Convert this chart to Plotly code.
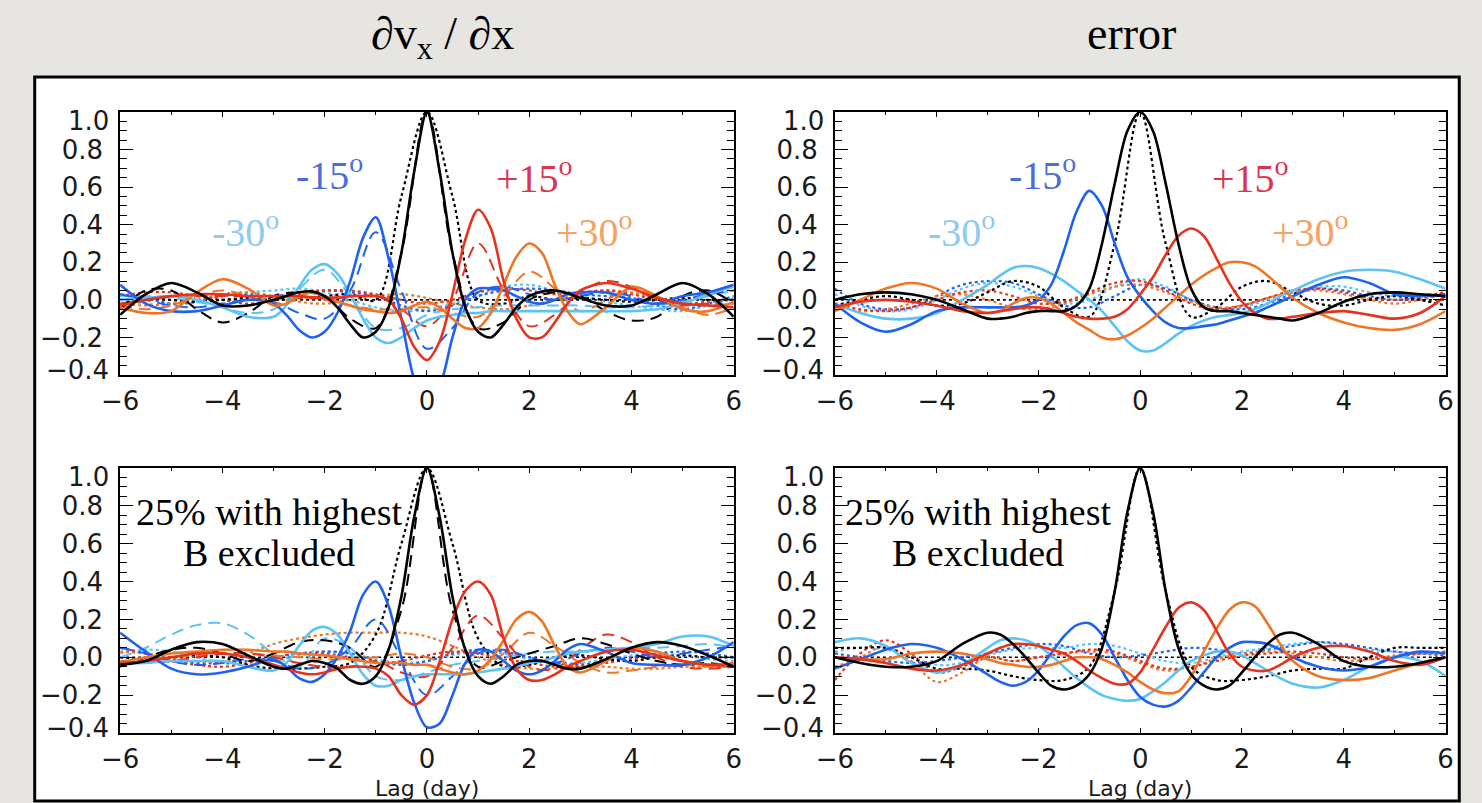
import plotly.graph_objects as go

W, H = 1482, 803

# ---------------- data ----------------
# fine grid for solid curves
lag_fine = [-6, -5.5, -5, -4.5, -4, -3.5,
            -3, -2.75, -2.5, -2.25, -2, -1.75, -1.5, -1.25, -1, -0.75, -0.5, -0.25,
            0, 0.25, 0.5, 0.75, 1, 1.25, 1.5, 1.75, 2, 2.25, 2.5, 2.75, 3,
            3.5, 4, 4.5, 5, 5.5, 6]
# coarse grid for dashed / dotted curves
lag_coarse = [-6, -5.5, -5, -4.5, -4, -3.5, -3, -2.5, -2, -1.5, -1, -0.5, 0,
              0.5, 1, 1.5, 2, 2.5, 3, 3.5, 4, 4.5, 5, 5.5, 6]

series_names = ["lat 0", "-15o", "-30o", "+15o", "+30o"]

# ---- top-left: dvx/dx ----
tl_solid_black = [-0.08, 0.03, 0.09, 0.04, -0.03, -0.03,
                  0.0, 0.02, 0.04, 0.045, 0.02, -0.04, -0.13, -0.2, -0.17, -0.04, 0.25, 0.68,
                  1.0, 0.68, 0.25, -0.04, -0.17, -0.2, -0.13, -0.04, 0.02, 0.045, 0.05, 0.035, 0.01,
                  -0.03, -0.03, 0.03, 0.09, 0.03, -0.09]
tl_solid_m15 = [0.08, -0.02, -0.06, -0.06, -0.03, 0.0,
                -0.02, -0.08, -0.16, -0.2, -0.17, -0.07, 0.1, 0.33, 0.44, 0.22, -0.1, -0.42,
                -0.55, -0.46, -0.2, 0.0, 0.06, 0.06, 0.05, 0.02, -0.01, -0.02, 0.0, 0.03, 0.04,
                0.04, 0.0, -0.02, 0.02, 0.04, 0.08]
tl_solid_m30 = [0.0, 0.01, 0.02, 0.0, -0.04, -0.09,
                -0.09, -0.03, 0.07, 0.16, 0.19, 0.14, 0.03, -0.1, -0.2, -0.23, -0.2, -0.15,
                -0.11, -0.09, -0.08, -0.07, -0.07, -0.06, -0.06, -0.06, -0.06, -0.06, -0.06, -0.06, -0.06,
                -0.06, -0.06, -0.05, -0.02, 0.03, 0.07]
tl_solid_p15 = [-0.03, 0.0, 0.02, 0.03, 0.03, 0.02,
                0.02, 0.02, 0.02, 0.015, 0.01, 0.01, 0.02, 0.02, 0.02, 0.0, -0.1, -0.25,
                -0.32, -0.22, 0.03, 0.32, 0.48, 0.38, 0.1, -0.1, -0.2, -0.2, -0.12, -0.02, 0.05,
                0.09, 0.06, 0.01, -0.02, -0.03, -0.04]
tl_solid_p30 = [-0.04, -0.07, -0.06, 0.04, 0.11, 0.06,
                -0.03, -0.02, 0.02, 0.04, 0.02, -0.01, -0.03, -0.05, -0.06, -0.07, -0.06, -0.03,
                -0.01, -0.04, -0.1, -0.15, -0.15, -0.07, 0.08, 0.23, 0.3, 0.25, 0.08, -0.06, -0.13,
                -0.04, 0.07, 0.02, -0.05, -0.06, -0.01]

tl_dash_black = [-0.05, 0.05, 0.05, -0.05, -0.12, -0.07, 0.02, 0.04, 0.02, -0.1, -0.15, 0.25, 1.0,
                 0.25, -0.15, -0.12, 0.0, 0.04, 0.02, -0.06, -0.11, -0.09, 0.02, 0.05, -0.02]
tl_dash_m15 = [0.03, 0.0, -0.03, -0.04, -0.02, 0.0, -0.01, -0.07, -0.1, 0.05, 0.36, 0.05, -0.26,
               -0.15, 0.04, 0.07, 0.03, 0.0, 0.02, 0.04, 0.02, -0.02, 0.0, 0.03, 0.05]
tl_dash_m30 = [0.02, 0.02, 0.01, -0.01, -0.04, -0.07, -0.05, 0.06, 0.16, 0.02, -0.15, -0.15, -0.08,
               -0.05, -0.04, -0.03, -0.03, -0.03, -0.03, -0.04, -0.04, -0.03, -0.01, 0.02, 0.05]
tl_dash_p15 = [-0.02, 0.0, 0.02, 0.02, 0.02, 0.02, 0.02, 0.01, 0.01, 0.02, 0.02, -0.05, -0.14,
               0.0, 0.3, 0.05, -0.14, -0.08, 0.04, 0.1, 0.07, 0.0, -0.03, -0.02, -0.03]
tl_dash_p30 = [-0.03, -0.05, -0.03, 0.02, 0.05, 0.02, -0.02, 0.01, 0.0, -0.03, -0.05, -0.05, -0.04,
               -0.07, -0.09, 0.02, 0.15, 0.06, -0.06, 0.0, 0.06, 0.02, -0.04, -0.08, -0.04]

tl_dot_black = [0.0, 0.01, 0.0, -0.01, 0.0, 0.01, 0.0, 0.01, 0.02, 0.03, 0.0, 0.55, 1.0,
                0.55, 0.0, -0.02, 0.02, 0.0, 0.01, 0.0, -0.01, 0.0, 0.01, 0.0, 0.0]
tl_dot_m15 = [0.03, 0.01, -0.02, -0.01, 0.02, 0.03, 0.02, 0.04, 0.05, 0.04, 0.02, -0.03, -0.06,
              -0.03, 0.02, 0.05, 0.06, 0.05, 0.03, 0.02, 0.01, -0.03, -0.05, -0.02, 0.02]
tl_dot_m30 = [0.0, -0.02, -0.03, -0.01, 0.02, 0.04, 0.05, 0.06, 0.04, 0.0, -0.04, -0.06, -0.05,
              -0.02, 0.02, 0.07, 0.08, 0.05, 0.02, -0.01, -0.03, -0.05, -0.06, -0.03, 0.01]
tl_dot_p15 = [0.02, 0.04, 0.04, 0.02, 0.0, -0.02, 0.0, 0.03, 0.05, 0.05, 0.03, 0.0, -0.02,
              0.0, 0.04, 0.06, 0.05, 0.03, 0.04, 0.05, 0.03, 0.0, -0.02, -0.01, 0.0]
tl_dot_p30 = [-0.02, -0.03, -0.02, 0.0, 0.03, 0.04, 0.02, -0.01, -0.02, 0.0, 0.02, 0.03, 0.01,
              -0.02, -0.04, -0.05, -0.03, 0.0, 0.03, 0.05, 0.04, 0.01, -0.02, -0.03, -0.02]

# ---- top-right: error ----
tr_solid_black = [0.0, 0.03, 0.04, 0.03, 0.0, -0.05,
                  -0.1, -0.1, -0.09, -0.07, -0.06, -0.06, -0.06, -0.03, 0.06, 0.3, 0.62, 0.9,
                  1.0, 0.9, 0.62, 0.3, 0.06, -0.04, -0.06, -0.06, -0.07, -0.08, -0.09, -0.1, -0.11,
                  -0.07, -0.01, 0.03, 0.04, 0.03, 0.02]
tr_solid_m15 = [-0.02, -0.12, -0.17, -0.13, -0.06, -0.04,
                -0.04, -0.04, -0.04, -0.03, 0.0, 0.08, 0.26, 0.47, 0.58, 0.5, 0.3, 0.12,
                0.02, -0.06, -0.12, -0.15, -0.15, -0.14, -0.13, -0.11, -0.09, -0.07, -0.04, -0.01, 0.02,
                0.08, 0.12, 0.09, 0.03, 0.02, 0.03]
tr_solid_m30 = [-0.02, -0.07, -0.1, -0.1, -0.07, 0.0,
                0.08, 0.13, 0.17, 0.18, 0.17, 0.14, 0.1, 0.05, 0.0, -0.06, -0.14, -0.22,
                -0.27, -0.27, -0.23, -0.18, -0.14, -0.11, -0.09, -0.08, -0.07, -0.05, -0.02, 0.02, 0.05,
                0.11, 0.15, 0.16, 0.15, 0.11, 0.06]
tr_solid_p15 = [-0.04, -0.01, 0.0, -0.01, -0.03, -0.06,
                -0.07, -0.06, -0.05, -0.04, -0.04, -0.05, -0.07, -0.09, -0.1, -0.1, -0.09, -0.05,
                0.03, 0.12, 0.24, 0.34, 0.38, 0.34, 0.22, 0.09, -0.01, -0.07, -0.1, -0.1, -0.09,
                -0.07, -0.06, -0.08, -0.1, -0.07, 0.02]
tr_solid_p30 = [-0.06, 0.0, 0.06, 0.09, 0.06, -0.02,
                -0.07, -0.06, -0.02, 0.01, 0.01, -0.02, -0.07, -0.12, -0.16, -0.2, -0.21, -0.19,
                -0.15, -0.1, -0.04, 0.02, 0.08, 0.13, 0.17, 0.2, 0.2, 0.18, 0.13, 0.07, 0.01,
                -0.07, -0.12, -0.15, -0.16, -0.13, -0.06]

tr_dot_black = [-0.03, 0.0, 0.02, 0.0, -0.03, -0.02, 0.04, 0.1, 0.07, -0.04, -0.09, 0.3, 1.0,
                0.3, -0.09, -0.04, 0.07, 0.1, 0.04, -0.02, -0.03, 0.0, 0.02, 0.0, -0.03]
tr_dot_m15 = [0.06, -0.02, -0.05, -0.04, 0.02, 0.08, 0.1, 0.09, 0.03, -0.03, -0.04, 0.02, 0.08,
              0.06, 0.0, -0.04, -0.05, -0.02, 0.03, 0.06, 0.05, 0.02, 0.0, 0.01, 0.03]
tr_dot_m30 = [0.03, -0.03, -0.06, -0.05, 0.0, 0.06, 0.09, 0.07, 0.02, -0.02, 0.0, 0.07, 0.11,
              0.07, 0.0, -0.05, -0.04, 0.0, 0.04, 0.07, 0.07, 0.04, 0.02, 0.03, 0.02]
tr_dot_p15 = [-0.02, -0.05, -0.06, -0.04, 0.0, 0.04, 0.05, 0.02, -0.02, -0.01, 0.04, 0.09, 0.1,
              0.05, -0.02, -0.05, -0.03, 0.01, 0.05, 0.06, 0.04, 0.01, 0.0, 0.02, 0.04]
tr_dot_p30 = [-0.03, -0.06, -0.05, -0.02, 0.02, 0.03, 0.0, -0.04, -0.05, -0.02, 0.03, 0.07, 0.08,
              0.04, -0.01, -0.04, -0.03, 0.01, 0.04, 0.05, 0.03, 0.0, -0.02, 0.0, 0.03]

# ---- bottom-left: dvx/dx, 25% highest B excluded ----
bl_solid_black = [-0.04, -0.02, 0.04, 0.08, 0.07, 0.01,
                  -0.05, -0.06, -0.04, -0.02, -0.03, -0.06, -0.12, -0.14, -0.1, 0.04, 0.32, 0.74,
                  1.0, 0.74, 0.32, 0.04, -0.1, -0.14, -0.1, -0.04, -0.02, -0.02, -0.04, -0.06, -0.06,
                  -0.01, 0.05, 0.08, 0.06, 0.01, -0.05]
bl_solid_m15 = [0.13, 0.03, -0.06, -0.09, -0.08, -0.05,
                -0.01, -0.05, -0.11, -0.13, -0.09, 0.0, 0.14, 0.33, 0.4, 0.27, 0.0, -0.24,
                -0.37, -0.35, -0.2, -0.03, 0.04, 0.03, -0.02, -0.07, -0.09, -0.07, -0.02, 0.04, 0.07,
                0.03, -0.03, -0.04, -0.04, 0.0, 0.08]
bl_solid_m30 = [-0.03, -0.03, -0.02, -0.02, -0.02, -0.05,
                -0.07, -0.03, 0.06, 0.14, 0.16, 0.12, 0.02, -0.09, -0.15, -0.15, -0.12, -0.1,
                -0.09, -0.09, -0.09, -0.09, -0.08, -0.07, -0.06, -0.05, -0.03, -0.02, 0.0, 0.02, 0.03,
                0.04, 0.05, 0.07, 0.11, 0.11, 0.06]
bl_solid_p15 = [-0.03, -0.02, 0.0, 0.02, 0.02, 0.0,
                -0.04, -0.06, -0.08, -0.09, -0.08, -0.06, -0.05, -0.05, -0.06, -0.1, -0.2, -0.25,
                -0.2, -0.02, 0.2, 0.35, 0.4, 0.33, 0.1, -0.06, -0.12, -0.12, -0.09, -0.05, -0.02,
                0.03, 0.04, 0.01, -0.02, -0.04, -0.04]
bl_solid_p30 = [-0.03, 0.0, 0.02, 0.03, 0.04, 0.04,
                0.03, 0.03, 0.02, 0.015, 0.01, 0.0, -0.01, -0.02, -0.03, -0.03, -0.03, -0.04,
                -0.04, -0.06, -0.08, -0.09, -0.07, -0.01, 0.09, 0.2, 0.24, 0.19, 0.06, -0.05, -0.08,
                -0.02, 0.05, 0.03, -0.02, -0.04, -0.03]

bl_dash_black = [-0.05, 0.0, 0.04, 0.05, 0.02, -0.02, 0.02, 0.08, 0.09, 0.05, -0.05, 0.25, 1.0,
                 0.25, -0.05, -0.02, 0.02, 0.06, 0.1, 0.07, 0.02, -0.02, -0.04, -0.03, -0.05]
bl_dash_m15 = [0.05, 0.02, -0.02, -0.04, -0.03, -0.01, -0.02, -0.06, -0.04, 0.05, 0.2, 0.0, -0.2,
               -0.1, 0.02, 0.04, 0.0, -0.03, 0.02, 0.05, 0.03, 0.0, 0.02, 0.04, 0.06]
bl_dash_m30 = [0.0, 0.05, 0.12, 0.17, 0.18, 0.12, 0.02, -0.05, 0.1, 0.05, -0.1, -0.12, -0.08,
               -0.04, -0.02, 0.0, 0.02, 0.03, 0.03, 0.04, 0.05, 0.05, 0.06, 0.07, 0.05]
bl_dash_p15 = [-0.03, -0.03, -0.02, 0.0, 0.02, 0.02, 0.0, -0.03, -0.05, -0.05, -0.02, -0.08, -0.1,
               0.05, 0.22, 0.1, -0.05, -0.06, 0.04, 0.12, 0.08, 0.0, -0.05, -0.06, -0.05]
bl_dash_p30 = [-0.02, -0.01, 0.0, 0.01, 0.02, 0.02, 0.01, 0.0, -0.01, -0.01, 0.0, 0.02, 0.0,
               -0.05, -0.06, 0.02, 0.13, 0.06, -0.03, -0.08, -0.07, -0.05, -0.04, -0.05, -0.05]

bl_dot_black = [0.0, -0.01, 0.0, 0.01, 0.0, -0.04, -0.06, -0.06, -0.05, -0.03, 0.12, 0.6, 1.0,
                0.6, 0.1, -0.05, -0.04, 0.0, 0.01, -0.01, -0.02, 0.0, 0.01, 0.0, 0.0]
bl_dot_m15 = [0.05, 0.02, -0.01, -0.03, -0.03, -0.02, 0.0, 0.02, 0.03, 0.02, -0.02, -0.04, -0.02,
              0.02, 0.04, 0.03, 0.0, -0.03, -0.04, -0.02, 0.0, 0.02, 0.03, 0.02, 0.0]
bl_dot_m30 = [0.02, 0.04, 0.03, 0.0, -0.03, -0.04, -0.02, 0.01, 0.03, 0.02, -0.01, -0.03, -0.02,
              0.01, 0.03, 0.02, -0.01, -0.03, -0.03, -0.01, 0.01, 0.02, 0.01, -0.01, -0.02]
bl_dot_p15 = [0.05, 0.02, -0.02, -0.04, -0.05, -0.03, 0.0, 0.02, 0.02, 0.0, -0.03, -0.02, 0.01,
              0.03, 0.02, -0.01, -0.03, -0.05, -0.05, -0.03, -0.01, 0.0, -0.02, -0.04, -0.05]
bl_dot_p30 = [0.03, 0.02, 0.0, -0.02, -0.02, 0.02, 0.07, 0.1, 0.12, 0.13, 0.13, 0.13, 0.11,
              0.06, 0.0, -0.04, -0.06, -0.06, -0.05, -0.05, -0.06, -0.06, -0.05, -0.05, -0.05]

# ---- bottom-right: error, 25% highest B excluded ----
br_solid_black = [0.0, -0.03, -0.05, -0.05, -0.02, 0.07,
                  0.13, 0.12, 0.07, 0.0, -0.08, -0.15, -0.17, -0.15, -0.09, 0.05, 0.35, 0.77,
                  1.0, 0.77, 0.35, 0.05, -0.09, -0.15, -0.17, -0.15, -0.08, 0.0, 0.07, 0.12, 0.13,
                  0.07, -0.02, -0.05, -0.05, -0.03, 0.0]
br_solid_m15 = [-0.06, -0.01, 0.04, 0.07, 0.05, -0.01,
                -0.09, -0.13, -0.15, -0.13, -0.07, 0.02, 0.11, 0.17, 0.18, 0.12, 0.0, -0.12,
                -0.21, -0.25, -0.26, -0.23, -0.16, -0.08, 0.0, 0.05, 0.08, 0.08, 0.07, 0.04, 0.0,
                -0.05, -0.07, -0.05, 0.0, 0.03, 0.02]
br_solid_m30 = [0.08, 0.1, 0.06, -0.03, -0.08, -0.04,
                0.05, 0.09, 0.1, 0.09, 0.06, 0.01, -0.05, -0.11, -0.16, -0.2, -0.22, -0.23,
                -0.22, -0.18, -0.13, -0.07, -0.02, 0.01, 0.03, 0.03, 0.01, -0.03, -0.07, -0.11, -0.14,
                -0.16, -0.12, -0.05, 0.0, -0.02, -0.1]
br_solid_p15 = [0.0, -0.01, -0.03, -0.06, -0.07, -0.04,
                0.02, 0.05, 0.07, 0.07, 0.06, 0.04, 0.02, -0.02, -0.07, -0.11, -0.14, -0.14,
                -0.08, 0.04, 0.16, 0.26, 0.29, 0.25, 0.14, 0.02, -0.05, -0.07, -0.07, -0.04, 0.0,
                0.05, 0.06, 0.03, -0.02, -0.04, 0.0]
br_solid_p30 = [0.0, -0.01, -0.01, 0.02, 0.03, 0.02,
                -0.01, -0.03, -0.04, -0.05, -0.05, -0.04, -0.02, 0.0, 0.0, -0.01, -0.04, -0.08,
                -0.13, -0.17, -0.19, -0.18, -0.1, 0.03, 0.15, 0.25, 0.29, 0.27, 0.18, 0.07, -0.02,
                -0.1, -0.12, -0.11, -0.07, -0.03, 0.0]

br_dot_black = [0.05, 0.05, 0.05, 0.0, -0.06, -0.06, -0.07, -0.1, -0.12, -0.12, -0.05, 0.35, 1.0,
                0.35, -0.05, -0.12, -0.12, -0.1, -0.07, -0.06, -0.06, 0.0, 0.05, 0.05, 0.05]
br_dot_m15 = [0.02, 0.0, -0.02, -0.03, -0.02, 0.0, 0.02, 0.05, 0.07, 0.06, 0.02, 0.0, 0.01,
              0.03, 0.05, 0.04, 0.02, 0.04, 0.06, 0.08, 0.07, 0.05, 0.03, 0.02, 0.01]
br_dot_m30 = [0.03, 0.05, 0.04, 0.0, -0.04, -0.03, 0.01, 0.04, 0.05, 0.05, 0.07, 0.06, 0.02,
              -0.02, -0.03, 0.0, 0.03, 0.05, 0.07, 0.08, 0.06, 0.04, 0.03, 0.02, 0.02]
br_dot_p15 = [-0.12, 0.02, 0.09, 0.02, -0.08, -0.05, 0.0, -0.02, 0.0, 0.02, 0.04, 0.03, -0.02,
              -0.06, -0.05, -0.02, 0.01, 0.02, 0.03, 0.02, 0.0, -0.01, 0.0, 0.02, 0.03]
br_dot_p30 = [-0.05, 0.0, 0.06, -0.02, -0.13, -0.08, 0.0, -0.02, 0.0, 0.02, 0.03, 0.02, -0.03,
              -0.07, -0.05, -0.01, 0.02, 0.03, 0.02, 0.0, -0.02, -0.01, 0.01, 0.02, 0.02]

x_tick_vals = [-6, -4, -2, 0, 2, 4, 6]
x_tick_text = ["\u22126", "\u22124", "\u22122", "0", "2", "4", "6"]
y_tick_vals = [-0.2, 0.0, 0.2, 0.4, 0.6, 0.8]
y_tick_text = ["\u22120.2", "0.0", "0.2", "0.4", "0.6", "0.8"]
y_end_vals = [1.0, -0.4]
y_end_text = ["1.0", "\u22120.4"]
lat_labels = ["-15<sup>o</sup>", "+15<sup>o</sup>", "-30<sup>o</sup>", "+30<sup>o</sup>"]
col_titles = ["\u2202v<sub>x</sub> / \u2202x", "error"]
note_lines = ["25% with highest", "B excluded"]
xlabel = "Lag (day)"

# ---------------- styling ----------------
C_BLACK = "#000000"
C_BLUE = "#1f62f2"
C_LBLUE = "#5cc3f7"
C_RED = "#e6331f"
C_ORANGE = "#ee7626"
colors = [C_BLACK, C_BLUE, C_LBLUE, C_RED, C_ORANGE]
label_colors = ["#4a6ed8", "#d8364f", "#8fcbef", "#f6a263"]

# panel pixel boxes (left, right, top, bottom)
panels = {
    "tl": (103, 728, 112, 375),
    "tr": (831, 1453, 112, 375),
    "bl": (103, 728, 468, 733),
    "br": (831, 1453, 468, 733),
}
ax_ids = {"tl": "", "tr": "2", "bl": "3", "br": "4"}

data = {
    "tl": dict(solid=[tl_solid_black, tl_solid_m15, tl_solid_m30, tl_solid_p15, tl_solid_p30],
               dash=[tl_dash_black, tl_dash_m15, tl_dash_m30, tl_dash_p15, tl_dash_p30],
               dot=[tl_dot_black, tl_dot_m15, tl_dot_m30, tl_dot_p15, tl_dot_p30]),
    "tr": dict(solid=[tr_solid_black, tr_solid_m15, tr_solid_m30, tr_solid_p15, tr_solid_p30],
               dash=None,
               dot=[tr_dot_black, tr_dot_m15, tr_dot_m30, tr_dot_p15, tr_dot_p30]),
    "bl": dict(solid=[bl_solid_black, bl_solid_m15, bl_solid_m30, bl_solid_p15, bl_solid_p30],
               dash=[bl_dash_black, bl_dash_m15, bl_dash_m30, bl_dash_p15, bl_dash_p30],
               dot=[bl_dot_black, bl_dot_m15, bl_dot_m30, bl_dot_p15, bl_dot_p30]),
    "br": dict(solid=[br_solid_black, br_solid_m15, br_solid_m30, br_solid_p15, br_solid_p30],
               dash=None,
               dot=[br_dot_black, br_dot_m15, br_dot_m30, br_dot_p15, br_dot_p30]),
}

fig = go.Figure()

def px_x(p):
    return p / W

def px_y(p):
    return 1 - p / H

draw_order = [2, 1, 4, 3, 0]  # light blue, blue, orange, red, black on top

for key, (l, r, t, b) in panels.items():
    sid = ax_ids[key]
    xa = "x" + sid
    ya = "y" + sid
    d = data[key]
    # zero reference dotted line
    fig.add_trace(go.Scatter(x=[-6, 6], y=[0, 0], mode="lines", xaxis=xa, yaxis=ya,
                             line=dict(color="black", width=1.6, dash="dot"),
                             showlegend=False, hoverinfo="skip"))
    for i in draw_order:
        fig.add_trace(go.Scatter(x=lag_coarse, y=d["dot"][i], mode="lines", xaxis=xa, yaxis=ya,
                                 line=dict(color=colors[i], width=2.2, dash="dot", shape="spline"),
                                 name=series_names[i] + " dotted", showlegend=False))
    if d["dash"] is not None:
        for i in draw_order:
            fig.add_trace(go.Scatter(x=lag_coarse, y=d["dash"][i], mode="lines", xaxis=xa, yaxis=ya,
                                     line=dict(color=colors[i], width=2, dash="12px,7px", shape="spline"),
                                     name=series_names[i] + " dashed", showlegend=False))
    for i in draw_order:
        fig.add_trace(go.Scatter(x=lag_fine, y=d["solid"][i], mode="lines", xaxis=xa, yaxis=ya,
                                 line=dict(color=colors[i], width=2.6, shape="spline", smoothing=0.9),
                                 name=series_names[i], showlegend=False))

SANS = "DejaVu Sans"
tick_font = dict(family=SANS, size=26, color="#1a1a1a")
layout_axes = {}
for key, (l, r, t, b) in panels.items():
    sid = ax_ids[key]
    layout_axes["xaxis" + sid] = dict(
        domain=[px_x(l), px_x(r)], anchor="y" + sid, range=[-6, 6],
        tickvals=x_tick_vals, ticktext=x_tick_text, ticks="inside", ticklen=5,
        tickwidth=1.3, tickcolor="black", showline=True, linecolor="black", linewidth=1.6,
        mirror="allticks", showgrid=False, zeroline=False, tickfont=tick_font,
        ticklabelstandoff=2,
        minor=dict(dtick=1, tick0=-6, ticks="inside", ticklen=3, tickcolor="black", tickwidth=1.2),
    )
    layout_axes["yaxis" + sid] = dict(
        domain=[px_y(b), px_y(t)], anchor="x" + sid, range=[-0.4, 1.0],
        tickvals=y_tick_vals, ticktext=y_tick_text, ticks="inside", ticklen=13,
        tickwidth=1.3, tickcolor="black", showline=True, linecolor="black", linewidth=1.6,
        mirror="allticks", showgrid=False, zeroline=False, tickfont=tick_font,
        ticklabelstandoff=10,
        minor=dict(dtick=0.05, tick0=0, ticks="inside", ticklen=7, tickcolor="black", tickwidth=1.2),
    )

annotations = []
# end tick labels (1.0 and -0.4), drawn slightly inside as in the original
for key, (l, r, t, b) in panels.items():
    sid = ax_ids[key]
    for v, txt, shift in zip(y_end_vals, y_end_text, [-9, 5]):
        annotations.append(dict(x=px_x(l), xref="paper", xanchor="right", xshift=-10,
                                y=v, yref="y" + sid, yanchor="middle", yshift=shift,
                                text=txt, showarrow=False, font=tick_font, borderpad=0))

serif = "Liberation Serif"
# latitude labels on top panels
lat_pos = {
    "tl": [(316, 173), (525, 175), (231, 229), (586, 229)],
    "tr": [(1043, 173), (1254, 175), (960, 229), (1315, 229)],
}
for key, pos in lat_pos.items():
    for (x, y), txt, c in zip(pos, lat_labels, label_colors):
        annotations.append(dict(x=px_x(x), y=px_y(y), xref="paper", yref="paper",
                                text=txt, showarrow=False, xanchor="center", yanchor="middle",
                                font=dict(family=serif, size=40, color=c)))

# notes on bottom panels
for x in (255, 977):
    for txt, y in zip(note_lines, (512, 553)):
        annotations.append(dict(x=px_x(x), y=px_y(y), xref="paper", yref="paper",
                                text=txt, showarrow=False, xanchor="center", yanchor="middle",
                                font=dict(family=serif, size=38, color="black")))

# column titles
annotations.append(dict(x=px_x(431), y=px_y(37), xref="paper", yref="paper", text=col_titles[0],
                        showarrow=False, xanchor="center", yanchor="middle",
                        font=dict(family=serif, size=46, color="black")))
annotations.append(dict(x=px_x(1133), y=px_y(34), xref="paper", yref="paper", text=col_titles[1],
                        showarrow=False, xanchor="center", yanchor="middle",
                        font=dict(family=serif, size=46, color="black")))

# x axis labels
for x in (416, 1142):
    annotations.append(dict(x=px_x(x), y=0, xref="paper", yref="paper", text=xlabel,
                            showarrow=False, xanchor="center", yanchor="bottom", yshift=1,
                            font=dict(family=SANS, size=22, color="#1a1a1a"), borderpad=0))

shapes = [
    dict(type="rect", xref="paper", yref="paper", x0=px_x(16), x1=px_x(1467),
         y0=px_y(801), y1=px_y(77), fillcolor="white", line=dict(color="black", width=3),
         layer="below"),
]

fig.update_layout(
    width=W, height=H, margin=dict(l=0, r=0, t=0, b=0),
    paper_bgcolor="#e7e5e1", plot_bgcolor="white",
    showlegend=False, annotations=annotations, shapes=shapes,
    **layout_axes,
)

fig.write_html("out.html")
